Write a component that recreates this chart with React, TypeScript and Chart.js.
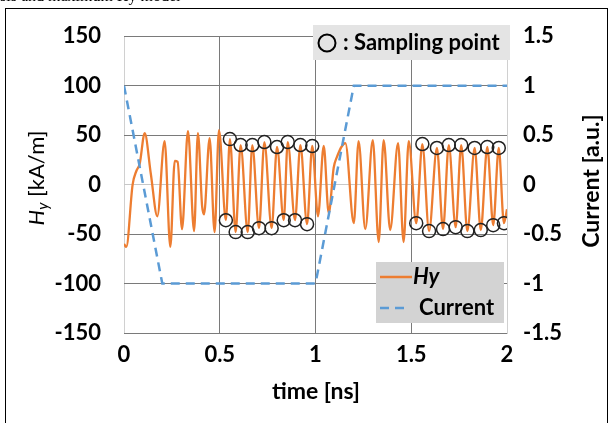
import React, { useEffect, useRef } from "react";
import { Chart, registerables } from "chart.js";
Chart.register(...registerables);

// Hy waveform (time [ns], Hy [kA/m])
const hyTime = [
  0, 0.012, 0.045, 0.065, 0.082, 0.108, 0.14, 0.174, 0.212, 0.242, 0.265, 0.28, 0.303, 0.334, 0.366, 0.386,
  0.408, 0.418, 0.447, 0.473, 0.496,
  0.532, 0.553, 0.583, 0.609, 0.646, 0.67, 0.705, 0.733, 0.771, 0.799, 0.834, 0.855, 0.893, 0.921, 0.956, 0.983,
  1.013, 1.043, 1.069, 1.095, 1.11, 1.156, 1.2, 1.225, 1.26, 1.299, 1.33, 1.356, 1.39, 1.431, 1.46, 1.487,
  1.526, 1.558, 1.593, 1.634, 1.666, 1.696, 1.732, 1.761, 1.793, 1.831, 1.863, 1.897, 1.928, 1.957, 1.984, 2.0,
];
const hyValue = [
  -60, -63, 0, 14, 21, 52, 11, -32, 44, -63, 24, 23, -45, 54, -47, 52,
  -22, -30, 47, -48, 55,
  -36, 46, -48, 40, -48, 40, -44, 43, -44, 38, -36, 43, -36, 40, -40, 39,
  -32, 39, -29, 17, 27, 42, -39, 44, -45, 45, -58, 45, -46, 42, -58, 44,
  -39, 41, -47, 37, -45, 40, -43, 40, -47, 37, -46, 38, -41, 37, -39, -25,
];

// Sampling points
const sampleTime = [
  0.532, 0.553, 0.583, 0.609, 0.646, 0.67, 0.705, 0.733, 0.771, 0.799, 0.834, 0.855, 0.893, 0.921, 0.956, 0.983,
  1.526, 1.558, 1.593, 1.634, 1.666, 1.696, 1.732, 1.761, 1.793, 1.831, 1.863, 1.897, 1.928, 1.957, 1.984,
];
const sampleValue = [
  -36, 46, -48, 40, -48, 40, -44, 43, -44, 38, -36, 43, -36, 40, -40, 39,
  -39, 41, -47, 37, -45, 40, -43, 40, -47, 37, -46, 38, -41, 37, -39,
];

// Current [a.u.]
const currentTime = [0, 0.2, 1.0, 1.2, 2.0];
const currentValue = [1, -1, -1, 1, 1];

const xTickLabels = ["0", "0.5", "1", "1.5", "2"];
const leftTickLabels = ["-150", "-100", "-50", "0", "50", "100", "150"];
const rightTickLabels = ["-1.5", "-1", "-0.5", "0", "0.5", "1", "1.5"];

const FONT = "Lato";

export default function App() {
  const ref = useRef<HTMLCanvasElement>(null);

  useEffect(() => {
    document.body.style.margin = "0";
    const canvas = ref.current;
    if (!canvas) return;

    const zip = (a: number[], b: number[]) => a.map((x, i) => ({ x, y: b[i] }));

    const overlay = {
      id: "overlay",
      afterDatasetsDraw(chart: any) {
        const ctx = chart.ctx;
        ctx.save();
        // Sampling point box
        ctx.fillStyle = "#e4e4e4";
        ctx.fillRect(313, 25, 197, 35);
        ctx.strokeStyle = "#000";
        ctx.lineWidth = 2;
        ctx.beginPath();
        ctx.arc(327, 43, 8.5, 0, Math.PI * 2);
        ctx.stroke();
        ctx.fillStyle = "#000";
        ctx.font = `bold 22px ${FONT}`;
        ctx.textBaseline = "middle";
        ctx.textAlign = "left";
        ctx.fillText(": Sampling point", 343, 43);

        // Legend box
        ctx.fillStyle = "#d3d3d3";
        ctx.fillRect(376, 262, 128, 61);
        ctx.strokeStyle = "#ED7D31";
        ctx.lineWidth = 2.5;
        ctx.beginPath();
        ctx.moveTo(380, 277);
        ctx.lineTo(412, 277);
        ctx.stroke();
        ctx.strokeStyle = "#5B9BD5";
        ctx.setLineDash([9, 6]);
        ctx.beginPath();
        ctx.moveTo(380, 308);
        ctx.lineTo(410, 308);
        ctx.stroke();
        ctx.setLineDash([]);
        ctx.fillStyle = "#000";
        ctx.font = `italic bold 22px ${FONT}`;
        ctx.fillText("Hy", 413, 277);
        ctx.font = `bold 22px ${FONT}`;
        ctx.fillText("Current", 419, 308);
        ctx.restore();
      },
      afterDraw(chart: any) {
        const ctx = chart.ctx;
        ctx.save();
        // frame
        ctx.strokeStyle = "#000";
        ctx.lineWidth = 1;
        ctx.strokeRect(5.5, 8.5, 602, 420);
        // clipped caption at the very top
        ctx.fillStyle = "#000";
        ctx.font = "16px serif";
        ctx.textBaseline = "alphabetic";
        ctx.textAlign = "left";
        ctx.fillText("sis and maximum Hy model", 0, 1);

        // left title: H_y [kA/m]
        ctx.save();
        ctx.translate(37, 178);
        ctx.rotate(-Math.PI / 2);
        ctx.textBaseline = "middle";
        const f1 = `italic 22px ${FONT}`;
        const f2 = `italic 15px ${FONT}`;
        const f3 = `22px ${FONT}`;
        ctx.font = f1;
        const w1 = ctx.measureText("H").width;
        ctx.font = f2;
        const w2 = ctx.measureText("y").width;
        ctx.font = f3;
        const w3 = ctx.measureText(" [kA/m]").width;
        let x = -(w1 + w2 + w3) / 2;
        ctx.font = f1;
        ctx.fillText("H", x, 0);
        x += w1;
        ctx.font = f2;
        ctx.fillText("y", x, 6);
        x += w2;
        ctx.font = f3;
        ctx.fillText(" [kA/m]", x, 0);
        ctx.restore();

        // right title
        ctx.save();
        ctx.translate(592, 181);
        ctx.rotate(-Math.PI / 2);
        ctx.textBaseline = "middle";
        ctx.textAlign = "center";
        ctx.font = `bold 23px ${FONT}`;
        ctx.fillText("Current [a.u.]", 0, 0);
        ctx.restore();

        // x title
        ctx.textAlign = "center";
        ctx.textBaseline = "middle";
        ctx.font = `bold 23px ${FONT}`;
        ctx.fillText("time [ns]", 316, 392);
        ctx.restore();
      },
    };

    const tickFont = { family: FONT, size: 22, weight: "bold" };

    const chart = new Chart(canvas, {
      type: "scatter",
      data: {
        datasets: [
          {
            label: "Sampling point",
            data: zip(sampleTime, sampleValue),
            yAxisID: "y",
            showLine: false,
            pointRadius: 6.5,
            pointBorderWidth: 1.5,
            pointBorderColor: "#222",
            pointBackgroundColor: "rgba(0,0,0,0)",
          },
          {
            label: "Current",
            data: zip(currentTime, currentValue),
            yAxisID: "y2",
            showLine: true,
            borderColor: "#5B9BD5",
            borderWidth: 2.5,
            borderDash: [9, 6],
            pointRadius: 0,
            tension: 0,
          },
          {
            label: "Hy",
            data: zip(hyTime, hyValue),
            yAxisID: "y",
            showLine: true,
            borderColor: "#ED7D31",
            borderWidth: 2.3,
            pointRadius: 0,
            cubicInterpolationMode: "monotone",
          },
        ],
      },
      options: {
        animation: false,
        responsive: false,
        maintainAspectRatio: false,
        layout: { padding: { top: 30, left: 0, right: 0, bottom: 0 } },
        plugins: { legend: { display: false }, tooltip: { enabled: false } },
        scales: {
          x: {
            type: "linear",
            position: "bottom",
            min: 0,
            max: 2,
            afterFit: (s: any) => {
              s.height = 90;
            },
            afterBuildTicks: (s: any) => {
              s.ticks = xTickLabels.map((l) => ({ value: parseFloat(l) }));
            },
            ticks: {
              callback: (v: any) => String(v),
              color: "#000",
              font: tickFont,
              padding: 9,
              maxRotation: 0,
            },
            grid: {
              drawTicks: false,
              color: (c: any) => (c.tick && (c.tick.value === 0 || c.tick.value === 2) ? "#d0d0d0" : "#7a7a7a"),
            },
            border: { display: false },
          },
          y: {
            type: "linear",
            position: "left",
            min: -150,
            max: 150,
            afterFit: (s: any) => {
              s.width = 124;
            },
            afterBuildTicks: (s: any) => {
              s.ticks = leftTickLabels.map((l) => ({ value: parseFloat(l) }));
            },
            ticks: {
              callback: (v: any) => String(v),
              color: "#000",
              font: tickFont,
              padding: 23,
            },
            grid: {
              drawTicks: false,
              color: (c: any) => (c.tick && c.tick.value === 0 ? "#c8c8c8" : "#7a7a7a"),
            },
            border: { display: false },
          },
          y2: {
            type: "linear",
            position: "right",
            min: -1.5,
            max: 1.5,
            afterFit: (s: any) => {
              s.width = 106;
            },
            afterBuildTicks: (s: any) => {
              s.ticks = rightTickLabels.map((l) => ({ value: parseFloat(l) }));
            },
            ticks: {
              callback: (v: any) => String(v),
              color: "#000",
              font: tickFont,
              padding: 16,
            },
            grid: { display: false, drawTicks: false },
            border: { display: true, color: "#d0d0d0" },
          },
        },
      },
      plugins: [overlay],
    } as any);

    return () => chart.destroy();
  }, []);

  return (
    <div style={{ width: 613, height: 423, position: "relative" }}>
      <canvas ref={ref} width={613} height={423} style={{ display: "block" }} />
    </div>
  );
}
